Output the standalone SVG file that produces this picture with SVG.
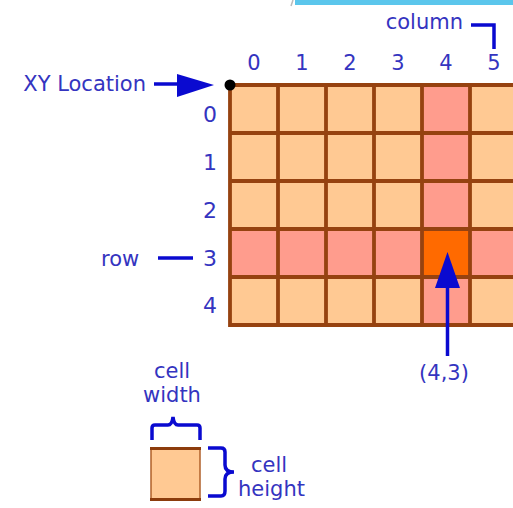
<svg xmlns="http://www.w3.org/2000/svg" width="513" height="508" viewBox="0 0 513 508">
<style>
text{font-family:"DejaVu Sans","Verdana",sans-serif;fill:#3434c0;font-size:21px}
.peach{fill:#ffc993}
.pink{fill:#ff9c8d}
.hot{fill:#ff6a00}
.gl{stroke:#964210;stroke-width:3.8;fill:none}
.conn{stroke:#0a0ad0;fill:none;stroke-width:3.5}
.head{fill:#0a0ad0}
.rowi{font-size:22px;text-anchor:end}
.coli{text-anchor:middle}
</style>
<rect x="295" y="0" width="218" height="5" fill="#5bc6ec"/>
<line x1="291" y1="6" x2="293" y2="0" stroke="#bbbbbb" stroke-width="1.5"/>
<g id="grid">
<rect x="230" y="85" width="290" height="240" class="peach"/>
<rect x="422" y="85" width="48" height="240" class="pink"/>
<rect x="230" y="229" width="290" height="48" class="pink"/>
<g id="cell-4-3"><rect x="422" y="229" width="48" height="48" class="hot"/></g>
<path class="gl" d="M230,85V325M278,85V325M326,85V325M374,85V325M422,85V325M470,85V325M230,85H513M230,133H513M230,181H513M230,229H513M230,277H513M228.1,325H513"/>
</g>
<g id="origin-dot"><circle cx="230" cy="85" r="5.5" fill="#000"/></g>
<g id="xy-label"><text x="146" y="91" text-anchor="end">XY Location</text></g>
<g id="column-label"><text x="463" y="29" text-anchor="end">column</text></g>
<g id="col-indices">
<text class="coli" x="254" y="70">0</text>
<text class="coli" x="302" y="70">1</text>
<text class="coli" x="350" y="70">2</text>
<text class="coli" x="398" y="70">3</text>
<text class="coli" x="446" y="70">4</text>
<text class="coli" x="494" y="70">5</text>
</g>
<g id="row-indices">
<text class="rowi" x="217" y="122">0</text>
<text class="rowi" x="217" y="170">1</text>
<text class="rowi" x="217" y="218">2</text>
<text class="rowi" x="217" y="266">3</text>
<text class="rowi" x="217" y="313">4</text>
</g>
<g id="row-label"><text x="101" y="266">row</text></g>
<g id="coord-label"><text x="444" y="380" text-anchor="middle">(4,3)</text></g>
<g id="cell-width-label">
<text x="172" y="378" text-anchor="middle">cell</text>
<text x="172" y="402" text-anchor="middle">width</text>
</g>
<g id="cell-height-label">
<text x="251" y="472">cell</text>
<text x="238" y="496">height</text>
</g>
<g id="legend-cell">
<rect x="151" y="448" width="49" height="52" class="peach" stroke="#b0602a" stroke-width="1.5"/>
<line x1="150" y1="448.5" x2="201" y2="448.5" stroke="#8c3c0c" stroke-width="3"/>
<line x1="150" y1="499.5" x2="201" y2="499.5" stroke="#8c3c0c" stroke-width="3"/>
</g>
<g id="connectors">
<line class="conn" x1="154" y1="84" x2="180" y2="84"/>
<polygon class="head" points="177,74 214,85 177,97"/>
<path class="conn" d="M471,25H494V49"/>
<line class="conn" x1="158" y1="258" x2="193" y2="258" stroke-width="4"/>
<line class="conn" x1="447.5" y1="286" x2="447.5" y2="356" stroke-width="5"/>
<polygon class="head" points="447.5,252 435,288 460,288"/>
<path class="conn" stroke-width="3" d="M152,440V428Q152,425 155,425H168Q172,425 173,417Q174,425 178,425H197Q200,425 200,428V440"/>
<path class="conn" stroke-width="3" d="M208,448H221Q225,448 225,452V465Q225,472 234,472Q225,472 225,479V491Q225,496 221,496H208"/>
</g>
</svg>
